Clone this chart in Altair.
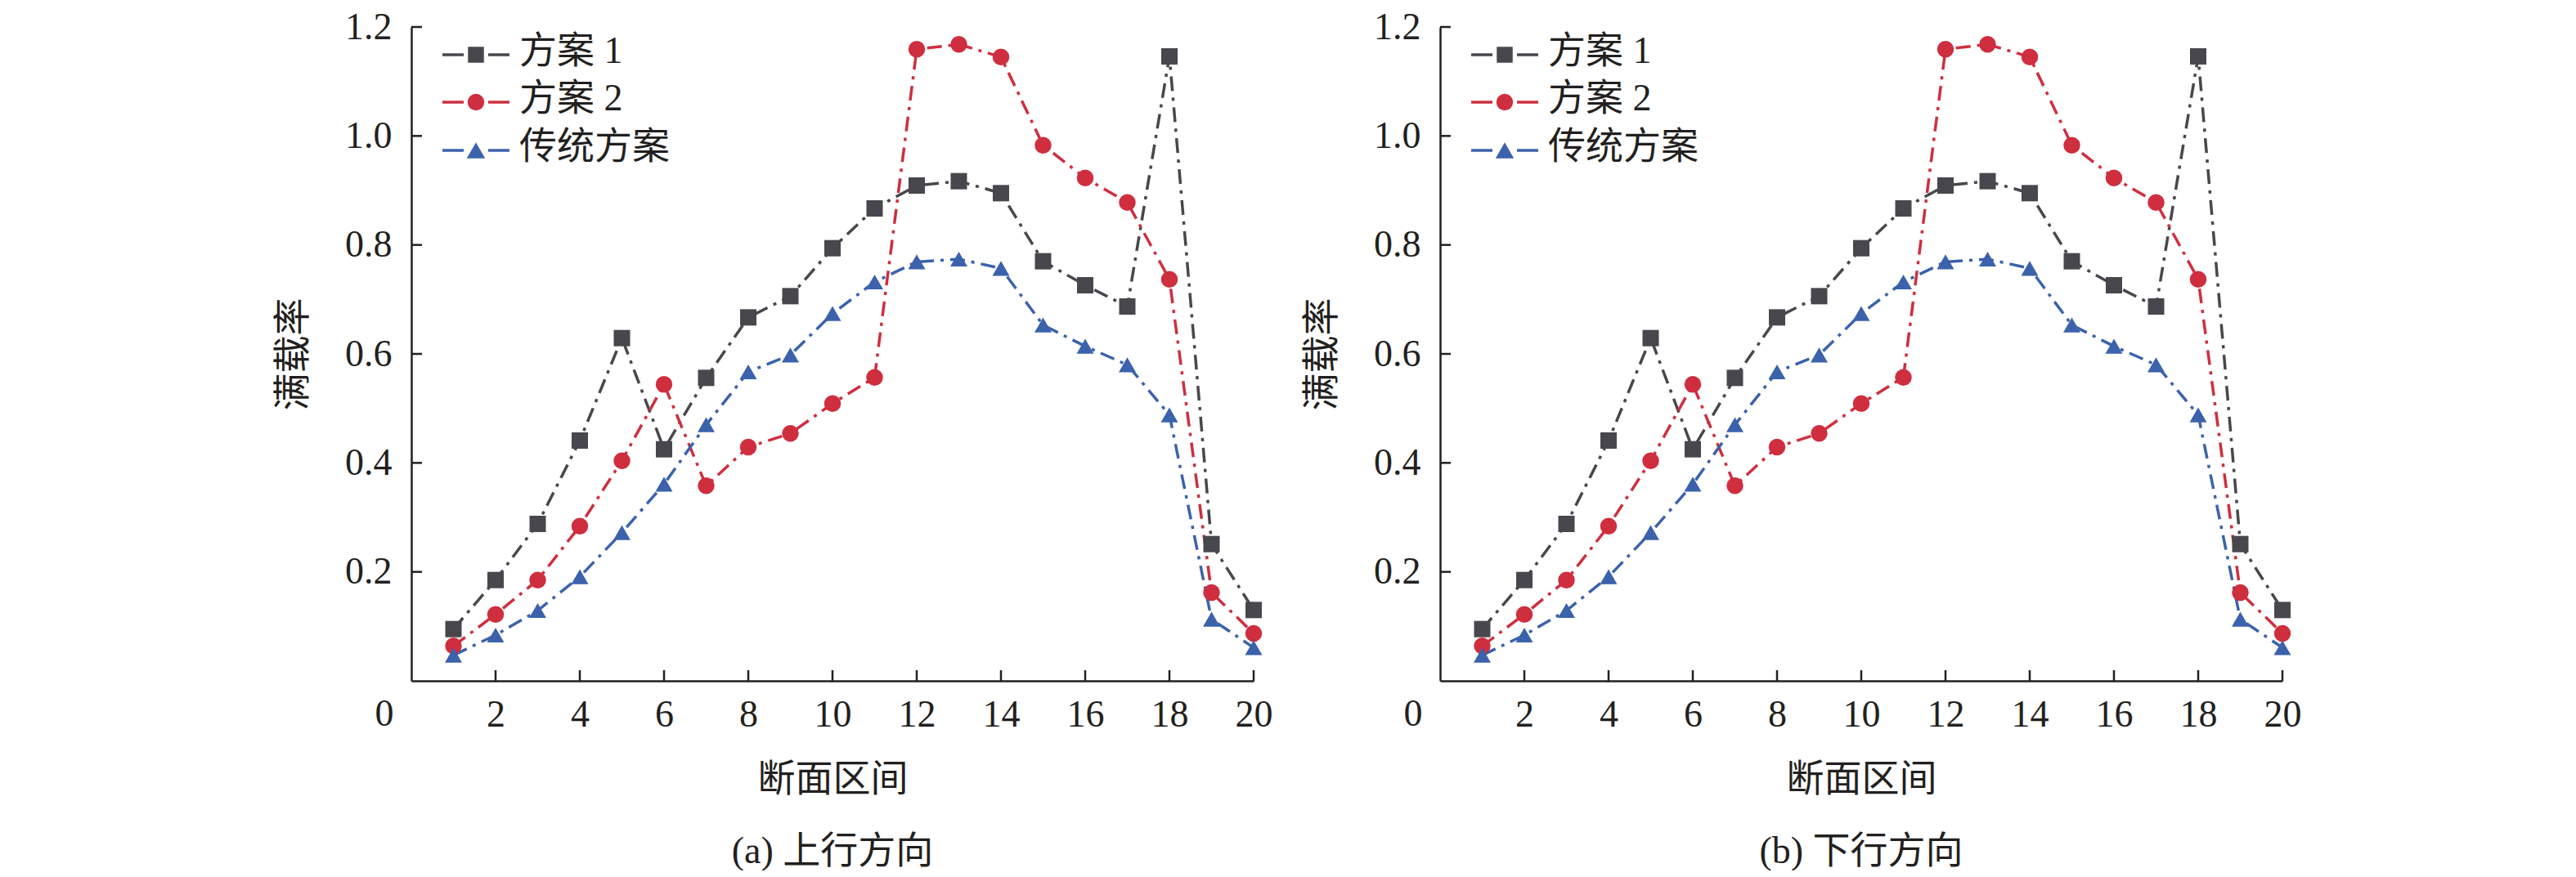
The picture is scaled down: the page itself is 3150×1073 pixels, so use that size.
import altair as alt
import pandas as pd

# ---------------- data ----------------
sections = list(range(1, 21))
series_names = ["方案 1", "方案 2", "传统方案"]

up_plan1 = [0.095, 0.185, 0.288, 0.441, 0.629, 0.425, 0.556, 0.667, 0.706, 0.794,
            0.867, 0.909, 0.917, 0.895, 0.770, 0.726, 0.687, 1.146, 0.251, 0.130]
up_plan2 = [0.064, 0.122, 0.185, 0.284, 0.404, 0.544, 0.358, 0.429, 0.454, 0.509,
            0.557, 1.159, 1.168, 1.145, 0.983, 0.923, 0.878, 0.737, 0.162, 0.087]
up_trad = [0.047, 0.084, 0.129, 0.191, 0.272, 0.361, 0.470, 0.567, 0.598, 0.674,
           0.732, 0.769, 0.774, 0.757, 0.653, 0.614, 0.580, 0.488, 0.113, 0.061]

down_plan1 = [0.095, 0.185, 0.288, 0.441, 0.629, 0.425, 0.556, 0.667, 0.706, 0.794,
              0.867, 0.909, 0.917, 0.895, 0.770, 0.726, 0.687, 1.146, 0.251, 0.130]
down_plan2 = [0.064, 0.122, 0.185, 0.284, 0.404, 0.544, 0.358, 0.429, 0.454, 0.509,
              0.557, 1.159, 1.168, 1.145, 0.983, 0.923, 0.878, 0.737, 0.162, 0.087]
down_trad = [0.047, 0.084, 0.129, 0.191, 0.272, 0.361, 0.470, 0.567, 0.598, 0.674,
             0.732, 0.769, 0.774, 0.757, 0.653, 0.614, 0.580, 0.488, 0.113, 0.061]

y_ticks = [0.2, 0.4, 0.6, 0.8, 1.0, 1.2]
x_ticks = [2, 4, 6, 8, 10, 12, 14, 16, 18, 20]
origin_tick = [0]
origin_label = ["0"]
x_title = "断面区间"
y_title = "满载率"
captions = ["(a) 上行方向", "(b) 下行方向"]

# ---------------- style ----------------
colors = ["#47474d", "#cf2e3f", "#3b62ab"]
shapes = ["square", "circle", "triangle-up"]
sizes = [400, 440, 530]
W, H = 1030, 800
FONT = "Liberation Serif, Noto Sans CJK SC"
FS = 46
INK = "#231f20"
DASH = [18, 8, 4, 8]
TICK = 13
AXW = 2.5
LEG_Y = [34, 92, 151]

XS = alt.Scale(domain=[0, 20], nice=False, zero=False)
YS = alt.Scale(domain=[0, 1.2], nice=False, zero=False)
X_AXIS = alt.Axis(
    values=x_ticks, format="d", ticks=False, tickSize=0, grid=False,
    domainColor=INK, domainWidth=AXW, labelFont=FONT, labelFontSize=FS,
    labelColor=INK, labelBaseline="alphabetic", labelPadding=55,
    labelFlush=False, labelOverlap=False,
    title=x_title, titleFont=FONT, titleFontSize=FS, titleFontWeight="normal",
    titleColor=INK, titleY=120, titleBaseline="middle")
Y_AXIS = alt.Axis(
    values=y_ticks, format=".1f", ticks=False, tickSize=0, grid=False,
    domainColor=INK, domainWidth=AXW, labelFont=FONT, labelFontSize=FS,
    labelColor=INK, labelPadding=24, labelFlush=False, labelOverlap=False,
    labelBaseline="middle",
    title=y_title, titleFont=FONT, titleFontSize=FS, titleFontWeight="normal",
    titleColor=INK, titleX=-145, titleY=H / 2, titleBaseline="middle",
    titleAlign="center")


def X():
    return alt.X("section:Q", scale=XS, axis=X_AXIS, title=x_title)


def Y():
    return alt.Y("value:Q", scale=YS, axis=Y_AXIS, title=y_title)


def panel(p1, p2, tr, caption):
    df = pd.DataFrame({
        "section": sections * 3,
        "value": p1 + p2 + tr,
        "series": [series_names[0]] * 20 + [series_names[1]] * 20 + [series_names[2]] * 20,
    })
    color = alt.Color("series:N", scale=alt.Scale(domain=series_names, range=colors), legend=None)
    shape = alt.Shape("series:N", scale=alt.Scale(domain=series_names, range=shapes), legend=None)
    size = alt.Size("series:N", scale=alt.Scale(domain=series_names, range=sizes), legend=None)

    base = alt.Chart(df)
    lines = base.mark_line(strokeWidth=3.5, strokeDash=DASH).encode(
        x=X(), y=Y(), color=color, detail="series:N")
    points = base.mark_point(filled=True, opacity=1, strokeWidth=0).encode(
        x=X(), y=Y(), color=color, shape=shape, size=size)

    yt = alt.Chart(pd.DataFrame({"value": y_ticks})).mark_rule(color=INK, strokeWidth=AXW).encode(
        y=Y(), x=alt.value(0), x2=alt.value(TICK))
    xt = alt.Chart(pd.DataFrame({"section": x_ticks})).mark_rule(color=INK, strokeWidth=AXW).encode(
        x=X(), y=alt.value(H), y2=alt.value(H - TICK))
    zero = alt.Chart(pd.DataFrame({"section": origin_tick, "t": origin_label})).mark_text(
        font=FONT, fontSize=FS, color=INK, baseline="alphabetic", dx=-33).encode(
        x=X(), y=alt.value(H + 55), text="t:N")
    cap = alt.Chart(pd.DataFrame({"t": [caption]})).mark_text(
        font=FONT, fontSize=FS, color=INK, baseline="middle", align="center").encode(
        x=alt.value(W / 2), y=alt.value(H + 209), text="t:N")

    layers = [lines, points, yt, xt, zero, cap]
    for i, name in enumerate(series_names):
        ld = alt.Chart(pd.DataFrame({"t": [name]}))
        layers.append(ld.mark_rule(color=colors[i], strokeWidth=3.5).encode(
            x=alt.value(38), x2=alt.value(64), y=alt.value(LEG_Y[i])))
        layers.append(ld.mark_rule(color=colors[i], strokeWidth=3.5).encode(
            x=alt.value(94), x2=alt.value(120), y=alt.value(LEG_Y[i])))
        layers.append(ld.mark_point(filled=True, opacity=1, strokeWidth=0, color=colors[i],
                                    shape=shapes[i], size=sizes[i] * 0.95).encode(
            x=alt.value(79), y=alt.value(LEG_Y[i])))
        layers.append(ld.mark_text(font=FONT, fontSize=FS, color=INK, align="left",
                                   baseline="middle").encode(
            x=alt.value(132), y=alt.value(LEG_Y[i] - 4), text="t:N"))

    return alt.layer(*layers).properties(width=W, height=H)


left = panel(up_plan1, up_plan2, up_trad, captions[0])
right = panel(down_plan1, down_plan2, down_trad, captions[1])

chart = alt.hconcat(left, right, spacing=228, bounds="flush").configure_view(
    stroke=None).properties(padding={"left": 327, "top": 2, "right": 10, "bottom": 0})

chart.save("out.html", embed_options={"renderer": "svg", "actions": False})
